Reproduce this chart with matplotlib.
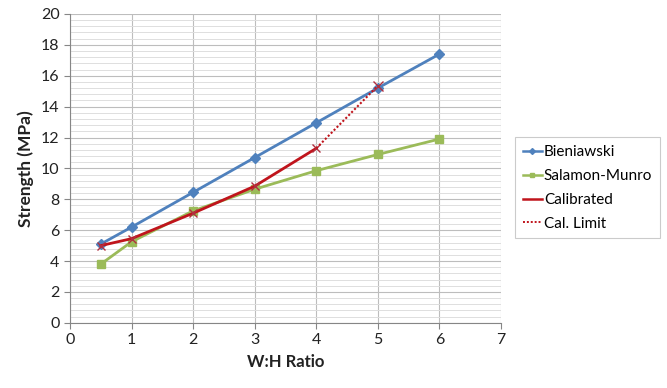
import numpy as np
import matplotlib
matplotlib.use('Agg')
import matplotlib.pyplot as plt
from matplotlib.ticker import MultipleLocator
from matplotlib.lines import Line2D

plt.rcParams['font.family'] = ['Lato', 'DejaVu Sans']

# W:H ratio vs pillar strength
x_all = [0.5, 1, 2, 3, 4, 5, 6]
bieniawski = [5.1, 6.2, 8.45, 10.7, 12.95, 15.2, 17.4]
salamon_munro = [3.8, 5.25, 7.25, 8.65, 9.85, 10.9, 11.9]
x_cal = [0.5, 1, 2, 3, 4]
calibrated = [5.0, 5.45, 7.1, 8.85, 11.3]
x_lim = [4, 5]
cal_limit = [11.3, 15.35]

blue, green, red = '#4F81BD', '#9BBB59', '#C0141C'

fig = plt.figure(figsize=(6.67, 3.88), dpi=100)
ax = fig.add_axes([0.105, 0.168, 0.646, 0.796])

ax.plot(x_all, bieniawski, color=blue, lw=2, marker='D', ms=5, zorder=3)
ax.plot(x_all, salamon_munro, color=green, lw=2, marker='s', ms=6, zorder=3)
ax.plot(x_cal, calibrated, color=red, lw=2, marker='x', ms=6, mew=1, mec='#B03040', zorder=4)
ax.plot(x_lim, cal_limit, color=red, lw=1.5, ls=(0, (1, 1)), marker='x', ms=7, mew=1,
        mec='#B03040', markevery=[1], zorder=4)

ax.set_xlim(0, 7)
ax.set_ylim(0, 20)
ax.xaxis.set_major_locator(MultipleLocator(1))
ax.yaxis.set_major_locator(MultipleLocator(2))
ax.yaxis.set_minor_locator(MultipleLocator(0.4))
ax.grid(which='major', color='#BDBDBD', lw=0.8)
ax.grid(which='minor', axis='y', color='#DEDEDE', lw=0.7)
ax.set_axisbelow(True)

for s in ['top', 'right']:
    ax.spines[s].set_visible(False)
for s in ['left', 'bottom']:
    ax.spines[s].set_color('#868686')
    ax.spines[s].set_linewidth(0.8)
ax.tick_params(which='major', length=4, color='#868686', labelsize=11.5, labelcolor='#222222')
ax.tick_params(which='minor', length=0)

ax.set_xlabel('W:H Ratio', fontsize=12, fontweight='bold', color='#222222', labelpad=5)
ax.set_ylabel('Strength (MPa)', fontsize=12.5, fontweight='bold', color='#222222', labelpad=5)

# legend entries: small markers as in the series key
handles = [
    Line2D([], [], color=blue, lw=1.8, marker='D', ms=3),
    Line2D([], [], color=green, lw=1.8, marker='s', ms=3.5),
    Line2D([], [], color=red, lw=1.8),
    Line2D([], [], color=red, lw=1.4, ls=(0, (1, 1))),
]
labels = ['Bieniawski', 'Salamon-Munro', 'Calibrated', 'Cal. Limit']
leg = fig.legend(handles, labels, loc='upper left', bbox_to_anchor=(0.772, 0.646),
                 fontsize=11, frameon=True, fancybox=False, edgecolor='#BFBFBF',
                 handlelength=1.25, handletextpad=0.15, labelspacing=0.65, borderpad=0.5,
                 borderaxespad=0)
leg.get_frame().set_linewidth(0.8)

fig.savefig('out.png', dpi=100)
